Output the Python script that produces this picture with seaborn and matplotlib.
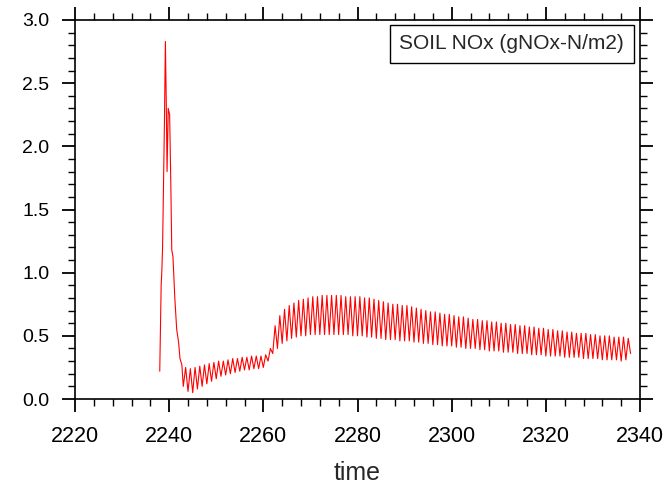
import numpy as np
import pandas as pd
import matplotlib
matplotlib.use("Agg")
import matplotlib.pyplot as plt
import seaborn as sns

# spike at the start of the run (time, value)
spike_time = [2238.0, 2238.3, 2238.45, 2238.6, 2239.0, 2239.2, 2239.4, 2239.55,
              2239.8, 2240.1, 2240.35, 2240.55, 2240.8, 2241.2, 2241.6, 2242.0,
              2242.3, 2242.7]
spike_val = [0.22, 0.90, 1.02, 1.20, 2.20, 2.83, 2.30, 1.80,
             2.30, 2.25, 1.70, 1.18, 1.13, 0.80, 0.55, 0.45,
             0.32, 0.27]

# daily cycle afterwards: day number, daily low and daily high
days = list(range(2243, 2338))
daily_lo = [0.10, 0.06, 0.05, 0.08, 0.10, 0.12, 0.14, 0.16, 0.18, 0.19,
            0.20, 0.21, 0.22, 0.23, 0.23, 0.24, 0.24, 0.25, 0.30, 0.36,
            0.40, 0.44, 0.46, 0.48, 0.49, 0.50, 0.50, 0.51, 0.51, 0.51,
            0.51, 0.51, 0.51, 0.51, 0.51, 0.51, 0.50, 0.50, 0.50, 0.49,
            0.49, 0.48, 0.48, 0.47, 0.47, 0.47, 0.46, 0.46, 0.46, 0.45,
            0.45, 0.44, 0.44, 0.43, 0.43, 0.42, 0.42, 0.42, 0.41, 0.41,
            0.40, 0.40, 0.40, 0.39, 0.39, 0.38, 0.38, 0.38, 0.37, 0.37,
            0.37, 0.36, 0.36, 0.36, 0.35, 0.35, 0.35, 0.34, 0.34, 0.34,
            0.34, 0.33, 0.33, 0.33, 0.33, 0.32, 0.32, 0.32, 0.32, 0.31,
            0.31, 0.31, 0.31, 0.30, 0.31]
daily_hi = [0.25, 0.24, 0.25, 0.26, 0.27, 0.28, 0.29, 0.30, 0.30, 0.31,
            0.32, 0.32, 0.33, 0.33, 0.34, 0.34, 0.34, 0.35, 0.40, 0.58,
            0.66, 0.71, 0.74, 0.76, 0.78, 0.79, 0.80, 0.81, 0.81, 0.82,
            0.82, 0.82, 0.82, 0.82, 0.81, 0.81, 0.81, 0.81, 0.80, 0.80,
            0.79, 0.78, 0.77, 0.76, 0.75, 0.75, 0.74, 0.74, 0.73, 0.72,
            0.71, 0.70, 0.69, 0.69, 0.68, 0.67, 0.67, 0.66, 0.65, 0.65,
            0.64, 0.63, 0.63, 0.62, 0.62, 0.61, 0.61, 0.60, 0.60, 0.59,
            0.59, 0.58, 0.58, 0.57, 0.57, 0.56, 0.56, 0.55, 0.55, 0.54,
            0.54, 0.53, 0.53, 0.52, 0.52, 0.52, 0.51, 0.51, 0.50, 0.50,
            0.50, 0.49, 0.49, 0.49, 0.48]
end_time = 2338.0
end_val = 0.36

# put the series together
t = list(spike_time)
v = list(spike_val)
for d, lo, hi in zip(days, daily_lo, daily_hi):
    t += [d, d + 0.5]
    v += [lo, hi]
t.append(end_time)
v.append(end_val)
df = pd.DataFrame({"time": t, "soil_nox": v})

sns.set_style("ticks")
plt.rcParams["font.family"] = ["Liberation Sans", "DejaVu Sans"]

fig = plt.figure(figsize=(6.68, 4.87), dpi=100)
# frame: x 75..640 px, y 20..399 px
ax = fig.add_axes([75 / 668, 88 / 487, 565 / 668, 379 / 487])

sns.lineplot(data=df, x="time", y="soil_nox", ax=ax, color="red",
             linewidth=0.8, estimator=None, sort=False)

ax.set_xlim(2220, 2340)
ax.set_ylim(0, 3.0)
ax.set_xticks(np.arange(2220, 2341, 20))
ax.set_xticks(np.arange(2220, 2341, 4), minor=True)
ax.set_yticks(np.arange(0, 3.01, 0.5))
ax.set_yticks(np.arange(0, 3.01, 0.1), minor=True)
ax.yaxis.set_major_formatter(matplotlib.ticker.FormatStrFormatter("%.1f"))

ax.tick_params(which="both", direction="out", top=True, right=True,
               color="black", labelcolor="black")
ax.tick_params(which="major", length=9.5, width=1.3)
ax.tick_params(which="minor", length=5, width=1.0)
ax.tick_params(axis="x", which="major", labelsize=15.5, pad=10)
ax.tick_params(axis="y", which="major", labelsize=14, pad=9)
for s in ax.spines.values():
    s.set_visible(True)
    s.set_linewidth(1.2)
    s.set_color("black")

ax.set_xlabel("time", fontsize=18, labelpad=10)
ax.set_ylabel("")

ax.text(0.972, 0.962, "SOIL NOx (gNOx-N/m2)", transform=ax.transAxes,
        ha="right", va="top", fontsize=15,
        bbox=dict(boxstyle="square,pad=0.45", fc="white", ec="black", lw=1.0))

# title sits above the top edge, only a sliver shows
fig.text(0.535, 1.0 - 3.0 / 487, "area", ha="center", va="bottom", fontsize=17)

fig.savefig("out.png", dpi=100)
